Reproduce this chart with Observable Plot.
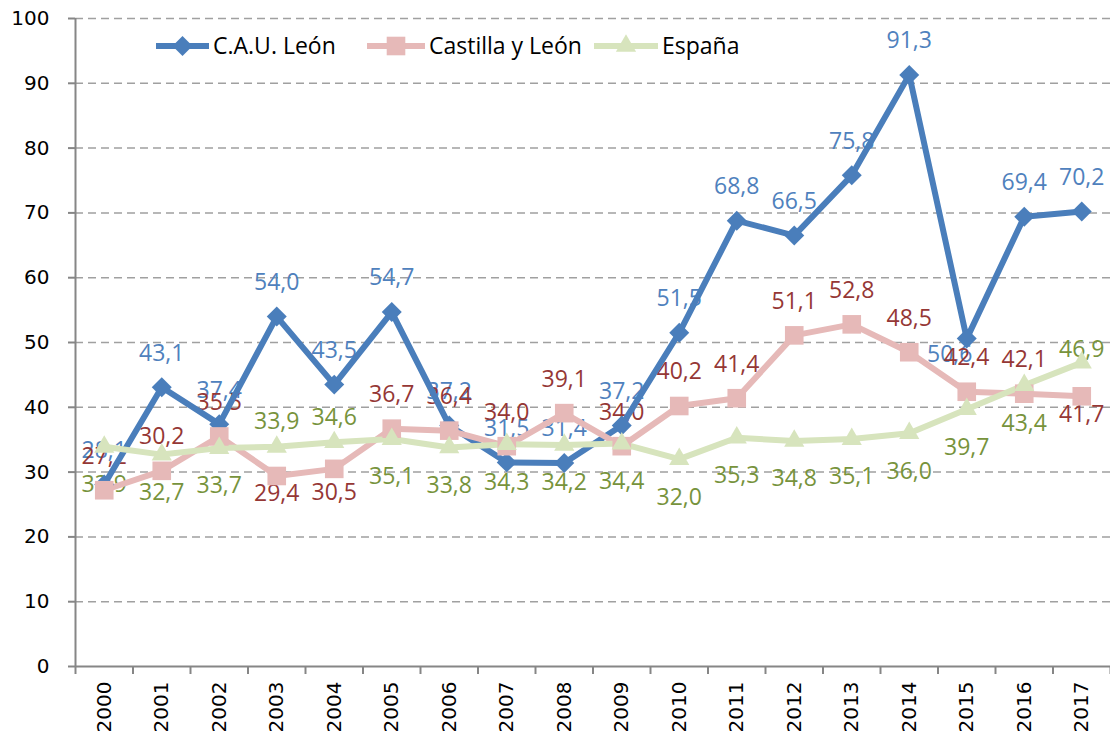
<!DOCTYPE html>
<html>
<head>
<meta charset="utf-8">
<script src="https://cdn.jsdelivr.net/npm/d3@7"></script>
<script src="https://cdn.jsdelivr.net/npm/@observablehq/plot@0.6"></script>
<style>
  html, body { margin: 0; padding: 0; background: #fff; }
  #wrap { position: relative; width: 1110px; height: 742px; overflow: hidden; }
  #legend { position: absolute; left: 0; top: 0; pointer-events: none; }
</style>
</head>
<body>
<div id="wrap"><div id="chart"></div><svg id="legend" width="1110" height="80"></svg></div>
<script>
// ---- data ----
const years = [2000,2001,2002,2003,2004,2005,2006,2007,2008,2009,2010,2011,2012,2013,2014,2015,2016,2017];
const cauLeon = [28.1,43.1,37.4,54.0,43.5,54.7,37.2,31.5,31.4,37.2,51.5,68.8,66.5,75.8,91.3,50.6,69.4,70.2];
const castillaLeon = [27.2,30.2,35.5,29.4,30.5,36.7,36.4,34.0,39.1,34.0,40.2,41.4,51.1,52.8,48.5,42.4,42.1,41.7];
const espana = [33.9,32.7,33.7,33.9,34.6,35.1,33.8,34.3,34.2,34.4,32.0,35.3,34.8,35.1,36.0,39.7,43.4,46.9];
const seriesNames = ["C.A.U. León", "Castilla y León", "España"];
const yTicks = [0,10,20,30,40,50,60,70,80,90,100];

// ---- label placement (style, not data) ----
const cauPlace = ["a","a","a","a","a","a","a","a","a","a","a","a","a","a","a","l","a","a"];
const cylPlace = ["a","a","a","n","m","a","a","a","a","a","a","a","a","a","a","a","a","n"];
const espPlace = ["b","b","b","u","u","b","b","b","b","b","b","b","b","b","b","b","b","s"];
const offsets = { a: [0,-34], b: [0,38], n: [0,18], m: [0,24], u: [0,-25], s: [0,-13], l: [-17,16] };

const styles = [
  { name: seriesNames[0], values: cauLeon, place: cauPlace, stroke: "#4a7ebb", label: "#4f81bd", symbol: "diamond2", r: 9 },
  { name: seriesNames[1], values: castillaLeon, place: cylPlace, stroke: "#e6b9b8", label: "#953735", symbol: "square", r: 10.5 },
  { name: seriesNames[2], values: espana, place: espPlace, stroke: "#d7e4bd", label: "#77933c", symbol: "triangle", r: 7.5 }
];

const table = styles.map(s => years.map((yr, i) => ({ year: yr, value: s.values[i], place: s.place[i], series: s.name })));
const fmt = v => v.toFixed(1).replace(".", ",");
const xDomain = [years[0] - 0.5, years[years.length - 1] + 0.5];
const bounds = years.map(y => y - 0.5).concat([xDomain[1]]);
const labelFont = "'Open Sans', sans-serif";
const axisFont = "'DejaVu Sans', sans-serif";

const marks = [];
// gridlines
marks.push(Plot.ruleY(yTicks.filter(t => t > 0), { stroke: "#a0a0a0", strokeWidth: 1.5, strokeDasharray: "8,5" }));
// data labels (drawn under lines, as in reference)
styles.forEach((s, k) => {
  Object.keys(offsets).forEach(p => {
    const rows = table[k].filter(d => d.place === p);
    if (!rows.length) return;
    marks.push(Plot.text(rows, {
      x: "year", y: "value", text: d => fmt(d.value),
      dx: offsets[p][0], dy: offsets[p][1],
      fill: s.label, fontSize: 23, fontFamily: labelFont
    }));
  });
});
// lines
styles.forEach((s, k) => {
  marks.push(Plot.line(table[k], { x: "year", y: "value", stroke: s.stroke, strokeWidth: 6, strokeLinejoin: "round" }));
});
// markers
styles.forEach((s, k) => {
  marks.push(Plot.dot(table[k], { x: "year", y: "value", symbol: s.symbol, r: s.r, fill: s.stroke, stroke: "none" }));
});
// axes
marks.push(Plot.ruleX([xDomain[0]], { stroke: "#868686", strokeWidth: 2 }));
marks.push(Plot.ruleY([0], { stroke: "#868686", strokeWidth: 2 }));
marks.push(Plot.axisY({ ticks: yTicks, tickSize: 7, tickPadding: 19, stroke: "#868686", strokeWidth: 2, fill: "#000", fontSize: 20, fontFamily: axisFont, tickFormat: d => String(d), label: null }));
marks.push(Plot.axisX({ ticks: bounds, tickSize: 8, tickFormat: () => "", stroke: "#868686", strokeWidth: 2, label: null }));
marks.push(Plot.axisX({ ticks: years, tickSize: 0, tickPadding: 15, tickRotate: -90, tickFormat: d => String(d), fill: "#000", fontSize: 20, fontFamily: axisFont, label: null }));

const chart = Plot.plot({
  width: 1110, height: 742,
  marginLeft: 75, marginRight: 0, marginTop: 18, marginBottom: 76,
  x: { type: "linear", domain: xDomain },
  y: { domain: [0, 100] },
  style: { background: "#fff", overflow: "visible" },
  marks
});
document.getElementById("chart").appendChild(chart);

// ---- legend (overlay inside plot area) ----
const lg = d3.select("#legend");
const legendItems = [
  { s: styles[0], x1: 156, x2: 209, tx: 213 },
  { s: styles[1], x1: 367, x2: 425, tx: 429 },
  { s: styles[2], x1: 594, x2: 658, tx: 662 }
];
const symMap = { diamond2: d3.symbolDiamond2, square: d3.symbolSquare, triangle: d3.symbolTriangle };
const ly = 46;
legendItems.forEach(it => {
  lg.append("line").attr("x1", it.x1).attr("x2", it.x2).attr("y1", ly).attr("y2", ly)
    .attr("stroke", it.s.stroke).attr("stroke-width", 6);
  lg.append("path").attr("transform", `translate(${(it.x1 + it.x2) / 2},${ly})`)
    .attr("d", d3.symbol(symMap[it.s.symbol], Math.PI * it.s.r * it.s.r)())
    .attr("fill", it.s.stroke);
  lg.append("text").attr("x", it.tx).attr("y", ly).attr("dy", "0.35em")
    .attr("font-family", labelFont).attr("font-size", 23).attr("fill", "#000")
    .text(it.s.name);
});
</script>
</body>
</html>
